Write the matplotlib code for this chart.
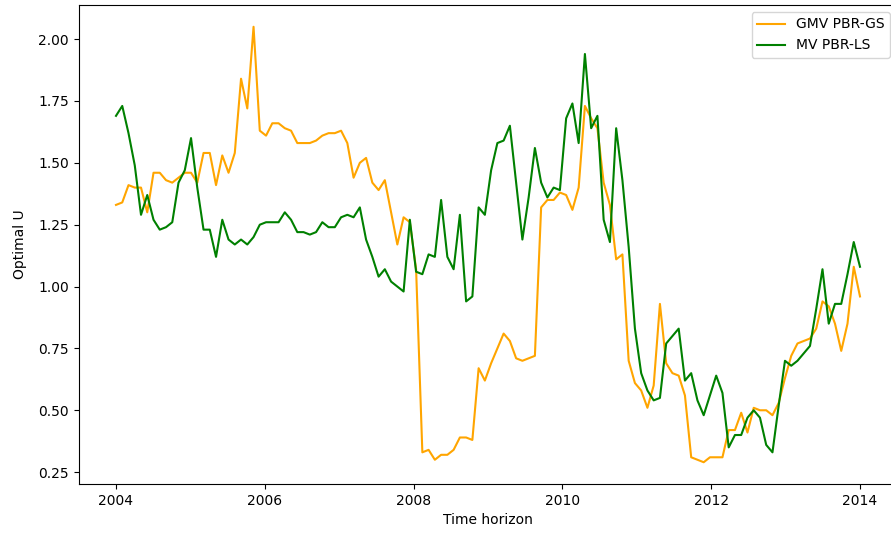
import numpy as np
import matplotlib
matplotlib.use("Agg")
import matplotlib.pyplot as plt

# Time axis: 120 evenly spaced observations between 2004 and 2014
t_start, t_end, n_obs = 2004, 2014, 120

gmv_pbr_gs = [
    1.33, 1.34, 1.41, 1.40, 1.40, 1.30, 1.46, 1.46, 1.43, 1.42,
    1.44, 1.46, 1.46, 1.42, 1.54, 1.54, 1.41, 1.53, 1.46, 1.54,
    1.84, 1.72, 2.05, 1.63, 1.61, 1.66, 1.66, 1.64, 1.63, 1.58,
    1.58, 1.58, 1.59, 1.61, 1.62, 1.62, 1.63, 1.58, 1.44, 1.50,
    1.52, 1.42, 1.39, 1.43, 1.30, 1.17, 1.28, 1.26, 1.07, 0.33,
    0.34, 0.30, 0.32, 0.32, 0.34, 0.39, 0.39, 0.38, 0.67, 0.62,
    0.69, 0.75, 0.81, 0.78, 0.71, 0.70, 0.71, 0.72, 1.32, 1.35,
    1.35, 1.38, 1.37, 1.31, 1.40, 1.73, 1.68, 1.64, 1.42, 1.33,
    1.11, 1.13, 0.70, 0.61, 0.58, 0.51, 0.60, 0.93, 0.69, 0.65,
    0.64, 0.56, 0.31, 0.30, 0.29, 0.31, 0.31, 0.31, 0.42, 0.42,
    0.49, 0.41, 0.51, 0.50, 0.50, 0.48, 0.53, 0.63, 0.72, 0.77,
    0.78, 0.79, 0.83, 0.94, 0.92, 0.85, 0.74, 0.85, 1.08, 0.96,
]

mv_pbr_ls = [
    1.69, 1.73, 1.62, 1.49, 1.29, 1.37, 1.27, 1.23, 1.24, 1.26,
    1.42, 1.47, 1.60, 1.40, 1.23, 1.23, 1.12, 1.27, 1.19, 1.17,
    1.19, 1.17, 1.20, 1.25, 1.26, 1.26, 1.26, 1.30, 1.27, 1.22,
    1.22, 1.21, 1.22, 1.26, 1.24, 1.24, 1.28, 1.29, 1.28, 1.32,
    1.19, 1.12, 1.04, 1.07, 1.02, 1.00, 0.98, 1.27, 1.06, 1.05,
    1.13, 1.12, 1.35, 1.12, 1.07, 1.29, 0.94, 0.96, 1.32, 1.29,
    1.47, 1.58, 1.59, 1.65, 1.42, 1.19, 1.36, 1.56, 1.42, 1.36,
    1.40, 1.39, 1.68, 1.74, 1.58, 1.94, 1.64, 1.69, 1.27, 1.18,
    1.64, 1.43, 1.16, 0.83, 0.65, 0.58, 0.54, 0.55, 0.77, 0.80,
    0.83, 0.62, 0.65, 0.54, 0.48, 0.56, 0.64, 0.57, 0.35, 0.40,
    0.40, 0.47, 0.50, 0.47, 0.36, 0.33, 0.52, 0.70, 0.68, 0.70,
    0.73, 0.76, 0.91, 1.07, 0.85, 0.93, 0.93, 1.05, 1.18, 1.08,
]

series_labels = ["GMV PBR-GS", "MV PBR-LS"]
series_colors = ["orange", "green"]

t = np.linspace(t_start, t_end, n_obs)

W, H, DPI = 891, 536, 100
fig = plt.figure(figsize=(W / DPI, H / DPI), dpi=DPI)
ax = fig.add_axes([78.8 / W, (H - 484) / H, 818.4 / W, 479 / H])

ax.plot(t, gmv_pbr_gs, color=series_colors[0], label=series_labels[0])
ax.plot(t, mv_pbr_ls, color=series_colors[1], label=series_labels[1])

ax.set_xlabel("Time horizon")
ax.set_ylabel("Optimal U", labelpad=8)
ax.legend(loc="upper right")

fig.savefig("out.png", dpi=DPI)
